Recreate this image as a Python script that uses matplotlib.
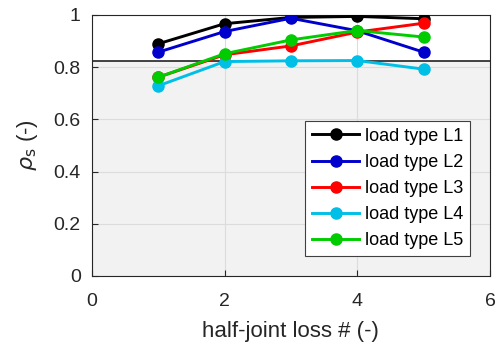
import numpy as np
import matplotlib.pyplot as plt
from matplotlib.patches import Rectangle

plt.rcParams['font.family'] = ['Liberation Sans', 'DejaVu Sans']

loss = [1, 2, 3, 4, 5]
rho_l1 = [0.889, 0.966, 0.990, 0.994, 0.985]
rho_l2 = [0.857, 0.936, 0.987, 0.939, 0.857]
rho_l3 = [0.761, 0.847, 0.881, 0.934, 0.968]
rho_l4 = [0.728, 0.821, 0.824, 0.825, 0.792]
rho_l5 = [0.761, 0.851, 0.904, 0.940, 0.915]
labels = ['load type L1', 'load type L2', 'load type L3', 'load type L4', 'load type L5']
colors = ['black', '#0000cc', '#ff0000', '#00bfe6', '#00cc00']
threshold = 0.825

fig = plt.figure(figsize=(4.99, 3.45), dpi=100)
ax = fig.add_axes([0.184, 0.2, 0.798, 0.757])

# shaded region below the threshold
ax.add_patch(Rectangle((0, 0), 6, threshold, facecolor='#f2f2f2', edgecolor='none', zorder=0))
ax.axhline(threshold, color='#222222', lw=1.2, zorder=1)

for y, lab, c in zip([rho_l1, rho_l2, rho_l3, rho_l4, rho_l5], labels, colors):
    ax.plot(loss, y, '-o', color=c, lw=2.1, ms=8, label=lab, zorder=3)

ax.set_xlim(0, 6)
ax.set_ylim(0, 1)
ax.set_xticks([0, 2, 4, 6])
ax.set_yticks(np.arange(0, 1.01, 0.2))
ax.set_yticklabels(['0', '0.2', '0.4', '0.6', '0.8', '1'])
ax.grid(True, color='#dcdcdc', lw=0.8, zorder=0.5)
ax.set_axisbelow(True)
ax.tick_params(direction='in', labelsize=14, colors='#262626', length=4)
ax.tick_params(axis='x', pad=12)
ax.tick_params(axis='y', pad=8)
for s in ax.spines.values():
    s.set_color('#262626')
ax.set_xlabel('half-joint loss # (-)', fontsize=16, color='#262626', labelpad=8)
ax.set_ylabel(r'$\rho_{\rm s}$ (-)', fontsize=16, color='#262626', labelpad=10)

leg = ax.legend(loc='lower right', fontsize=13, frameon=True, fancybox=False,
                edgecolor='#404040', framealpha=1, handlelength=2.6,
                borderaxespad=1.1, labelspacing=0.5, handletextpad=0.3)
leg.get_frame().set_linewidth(0.8)

fig.savefig('out.png', dpi=100)
